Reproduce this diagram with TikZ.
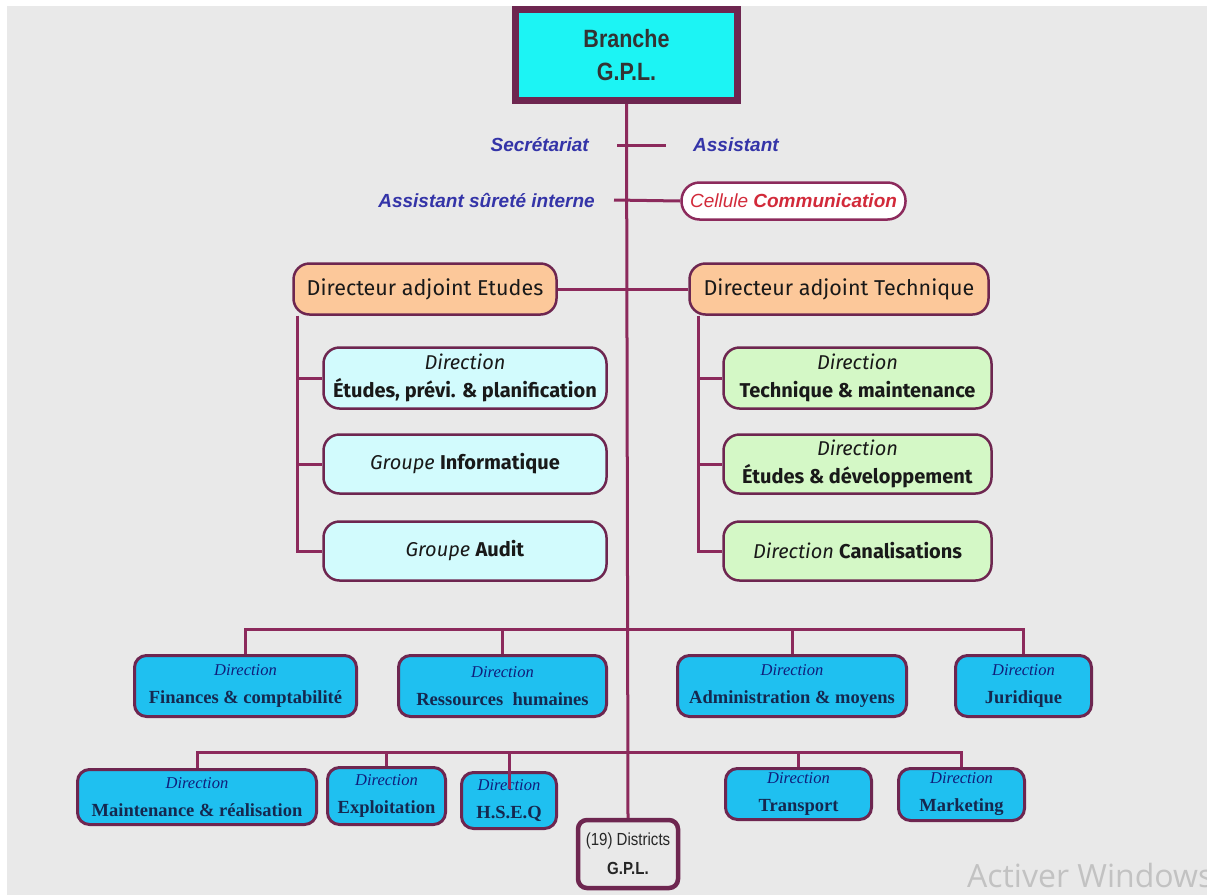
\documentclass[tikz,border=0pt]{standalone}
\usepackage{fontspec}
\setmainfont{Liberation Serif}
\setsansfont{Liberation Sans}
\newfontfamily\narrowsans[FakeStretch=0.86]{Liberation Sans}
\newfontfamily\comicfont{Fira Sans}
\newfontfamily\winfont{Open Sans}
\usetikzlibrary{calc}

\definecolor{bgray}{HTML}{E9E9E9}
\definecolor{wire}{HTML}{8C2A5C}
\definecolor{frame}{HTML}{6E2650}
\definecolor{topfill}{HTML}{1CF4F4}
\definecolor{peach}{HTML}{FCC89A}
\definecolor{paleblue}{HTML}{D2FBFD}
\definecolor{palegreen}{HTML}{D4F8C6}
\definecolor{skyfill}{HTML}{1FC0F0}
\definecolor{navytext}{HTML}{15284F}
\definecolor{bluelabel}{HTML}{3434A8}
\definecolor{redlabel}{HTML}{D22A3A}

\tikzset{
  wire/.style={draw=wire, line width=3pt},
  topbox/.style={draw=frame, line width=6.5pt, fill=topfill, inner sep=0pt,
    align=center, text=black!80,
    font=\narrowsans\bfseries\fontsize{25}{33}\selectfont},
  lab/.style={inner sep=0pt, text=bluelabel,
    font=\sffamily\bfseries\itshape\fontsize{19}{21}\selectfont},
  cellbox/.style={draw=wire, line width=2.5pt, fill=white, rounded corners=18pt,
    inner sep=0pt, text=redlabel,
    font=\sffamily\itshape\fontsize{19}{21}\selectfont},
  dirbox/.style={draw=frame, line width=2.5pt, fill=peach, rounded corners=16pt,
    inner sep=0pt, minimum height=51pt, text=black!90,
    font=\comicfont\fontsize{21.5}{24}\selectfont},
  subbox/.style={draw=frame, line width=2.5pt, rounded corners=16pt,
    inner sep=0pt, align=center, text=black!90,
    font=\comicfont\fontsize{20}{28}\selectfont},
  leftsub/.style={subbox, fill=paleblue, minimum width=283pt},
  rightsub/.style={subbox, fill=palegreen, minimum width=268pt},
  rowbox/.style={draw=frame, line width=3pt, fill=skyfill, rounded corners=12pt,
    inner sep=0pt, align=center, text=navytext,
    font=\fontsize{18.5}{28}\selectfont},
  distbox/.style={draw=frame, line width=4.5pt, fill=bgray, rounded corners=9pt,
    inner sep=0pt, align=center, text=black!85,
    font=\narrowsans\fontsize{17.5}{29}\selectfont},
}

\newcommand{\dirword}{{\fontsize{16.5}{28}\selectfont\itshape\color{navytext!75!blue}Direction}}

\begin{document}
\begin{tikzpicture}[x=1pt, y=-1pt]
  % page and grey backdrop
  \fill[white] (0,0) rectangle (1207,895);
  \fill[bgray] (7,6) rectangle (1207,895);
  \useasboundingbox (0,0) rectangle (1207,895);

  % head of the branch
  \node[topbox, minimum width=222pt, minimum height=91pt] (branche) at (626.5,55)
    {Branche\\G.P.L.};

  % staff attached to the head
  \node[lab, anchor=east] (secr) at (589,145) {Secrétariat};
  \node[lab, anchor=west] (assist) at (693,145) {Assistant};
  \node[lab, anchor=east] (surete) at (595,200) {Assistant sûreté interne};
  \node[cellbox, minimum width=224pt, minimum height=37pt] (cell) at (793.5,201)
    {Cellule \textbf{Communication}};

  % deputy directors
  \node[dirbox, minimum width=263pt] (dae) at (425,289) {Directeur adjoint Etudes};
  \node[dirbox, minimum width=299pt] (dat) at (839,289) {Directeur adjoint Technique};

  % units under the deputy director for studies
  \node[leftsub, minimum height=61pt] (dep) at (465,378)
    {{\itshape Direction}\\\textbf{Études, prévi. \& planification}};
  \node[leftsub, minimum height=59pt] (ginf) at (465,464)
    {{\itshape Groupe} \textbf{Informatique}};
  \node[leftsub, minimum height=59pt] (gaud) at (465,551)
    {{\itshape Groupe} \textbf{Audit}};

  % units under the technical deputy director
  \node[rightsub, minimum height=61pt] (dtm) at (857.5,378)
    {{\itshape Direction}\\\textbf{Technique \& maintenance}};
  \node[rightsub, minimum height=59pt] (ded) at (857.5,464)
    {{\itshape Direction}\\\textbf{Études \& développement}};
  \node[rightsub, minimum height=59pt] (dcan) at (857.5,551)
    {{\itshape Direction} \textbf{Canalisations}};

  % first row of central directions
  \node[rowbox, minimum width=222pt, minimum height=61pt] (fin) at (245.5,686)
    {\dirword\\\textbf{Finances \& comptabilité}};
  \node[rowbox, minimum width=208pt, minimum height=61pt] (rh) at (502.5,686)
    {\dirword\\\textbf{Ressources\ \ humaines}};
  \node[rowbox, minimum width=229pt, minimum height=61pt] (adm) at (792,686)
    {\dirword\\\textbf{Administration \& moyens}};
  \node[rowbox, minimum width=136pt, minimum height=61pt] (jur) at (1023.5,686)
    {\dirword\\\textbf{Juridique}};

  % second row of central directions
  \node[rowbox, minimum width=239pt, minimum height=55pt] (mnt) at (197,797)
    {\dirword\\\textbf{Maintenance \& réalisation}};
  \node[rowbox, minimum width=118pt, minimum height=57pt] (expl) at (386.5,796)
    {\dirword\\\textbf{Exploitation}};
  \node[rowbox, minimum width=95pt, minimum height=56pt] (hseq) at (509,800.5)
    {\dirword\\\textbf{H.S.E.Q}};
  \node[rowbox, minimum width=146pt, minimum height=51pt] (trans) at (798.5,794)
    {\dirword\\\textbf{Transport}};
  \node[rowbox, minimum width=126pt, minimum height=52pt] (mkt) at (961.5,794.5)
    {\dirword\\\textbf{Marketing}};

  % regional districts
  \node[distbox, minimum width=100pt, minimum height=68pt] (dist) at (628,854)
    {(19) Districts\\\textbf{G.P.L.}};

  % system watermark
  \node[anchor=base west, inner sep=0pt, text=black!24,
    font=\winfont\fontsize{32}{32}\selectfont] (wm) at (967,887) {Activer Windows};

  % trunk
  \draw[wire] (branche.south) -- (dist.north);

  % staff ticks
  \coordinate (tickL) at (617,145);
  \coordinate (tickR) at (666,145);
  \draw[wire] (tickL) -- (tickR);
  \coordinate (sureteEnd) at (614,200);
  \draw[wire] (sureteEnd) -- (cell.west);

  % deputies link
  \draw[wire] (dae.east) -- (dat.west);

  % left subtree
  \coordinate (ltop) at ($(dae.south west)+(5,0)$);
  \draw[wire] (ltop) |- (dep.west);
  \draw[wire] (ltop) |- (ginf.west);
  \draw[wire] (ltop) |- (gaud.west);

  % right subtree
  \coordinate (rtop) at ($(dat.south west)+(10,0)$);
  \draw[wire] (rtop) |- (dtm.west);
  \draw[wire] (rtop) |- (ded.west);
  \draw[wire] (rtop) |- (dcan.west);

  % first row bus
  \coordinate (busA) at (627,629);
  \draw[wire] (fin.north) |- (busA) -| (jur.north);
  \draw[wire] (rh.north) -- (rh.north |- busA);
  \draw[wire] (adm.north) -- (adm.north |- busA);

  % second row bus
  \coordinate (busB) at (627,752);
  \draw[wire] (mnt.north) |- (busB) -| (mkt.north);
  \draw[wire] (expl.north) -- (expl.north |- busB);
  \draw[wire] (trans.north) -- (trans.north |- busB);
  \draw[wire] (hseq.north |- busB) -- ($(hseq.north)+(0,18)$);
\end{tikzpicture}
\end{document}
